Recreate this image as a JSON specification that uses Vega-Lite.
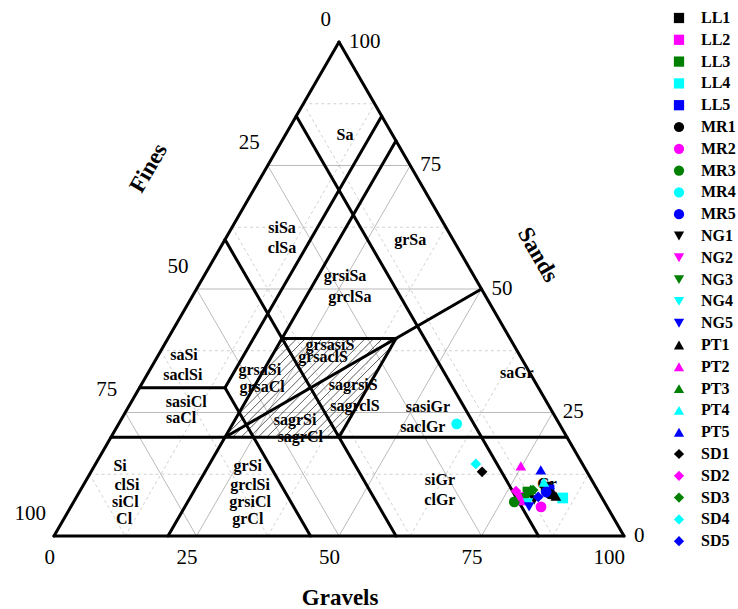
{
  "$schema": "https://vega.github.io/schema/vega-lite/v6.json",
  "width": 570,
  "height": 494,
  "autosize": {"type": "none"},
  "padding": {"left": 54, "top": 42, "right": 114, "bottom": 73},
  "background": "white",
  "config": {"view": {"stroke": null}},
  "datasets": {
    "grid": [
      {"level": "minor", "g1": 0, "s1": 12.5, "g2": 87.5, "s2": 12.5},
      {"level": "minor", "g1": 0, "s1": 37.5, "g2": 62.5, "s2": 37.5},
      {"level": "minor", "g1": 0, "s1": 62.5, "g2": 37.5, "s2": 62.5},
      {"level": "minor", "g1": 0, "s1": 87.5, "g2": 12.5, "s2": 87.5},
      {"level": "minor", "g1": 12.5, "s1": 0, "g2": 12.5, "s2": 87.5},
      {"level": "minor", "g1": 37.5, "s1": 0, "g2": 37.5, "s2": 62.5},
      {"level": "minor", "g1": 62.5, "s1": 0, "g2": 62.5, "s2": 37.5},
      {"level": "minor", "g1": 87.5, "s1": 0, "g2": 87.5, "s2": 12.5},
      {"level": "minor", "g1": 0, "s1": 87.5, "g2": 87.5, "s2": 0},
      {"level": "minor", "g1": 0, "s1": 62.5, "g2": 62.5, "s2": 0},
      {"level": "minor", "g1": 0, "s1": 37.5, "g2": 37.5, "s2": 0},
      {"level": "minor", "g1": 0, "s1": 12.5, "g2": 12.5, "s2": 0},
      {"level": "major", "g1": 0, "s1": 25, "g2": 75, "s2": 25},
      {"level": "major", "g1": 0, "s1": 50, "g2": 50, "s2": 50},
      {"level": "major", "g1": 0, "s1": 75, "g2": 25, "s2": 75},
      {"level": "major", "g1": 25, "s1": 0, "g2": 25, "s2": 75},
      {"level": "major", "g1": 50, "s1": 0, "g2": 50, "s2": 50},
      {"level": "major", "g1": 75, "s1": 0, "g2": 75, "s2": 25},
      {"level": "major", "g1": 0, "s1": 75, "g2": 75, "s2": 0},
      {"level": "major", "g1": 0, "s1": 50, "g2": 50, "s2": 0},
      {"level": "major", "g1": 0, "s1": 25, "g2": 25, "s2": 0}
    ],
    "hatch": [
      {"x1": 38.44, "y1": 31.94, "x2": 41.14, "y2": 34.64},
      {"x1": 36.40, "y1": 28.40, "x2": 42.64, "y2": 34.64},
      {"x1": 34.35, "y1": 24.85, "x2": 44.14, "y2": 34.64},
      {"x1": 32.30, "y1": 21.30, "x2": 45.64, "y2": 34.64},
      {"x1": 30.25, "y1": 17.75, "x2": 47.14, "y2": 34.64},
      {"x1": 31.32, "y1": 17.32, "x2": 48.64, "y2": 34.64},
      {"x1": 32.82, "y1": 17.32, "x2": 50.14, "y2": 34.64},
      {"x1": 34.32, "y1": 17.32, "x2": 51.64, "y2": 34.64},
      {"x1": 35.82, "y1": 17.32, "x2": 53.14, "y2": 34.64},
      {"x1": 37.32, "y1": 17.32, "x2": 54.64, "y2": 34.64},
      {"x1": 38.82, "y1": 17.32, "x2": 56.14, "y2": 34.64},
      {"x1": 40.32, "y1": 17.32, "x2": 57.64, "y2": 34.64},
      {"x1": 41.82, "y1": 17.32, "x2": 59.14, "y2": 34.64},
      {"x1": 43.32, "y1": 17.32, "x2": 59.13, "y2": 33.13},
      {"x1": 44.82, "y1": 17.32, "x2": 57.08, "y2": 29.58},
      {"x1": 46.32, "y1": 17.32, "x2": 55.03, "y2": 26.03},
      {"x1": 47.82, "y1": 17.32, "x2": 52.98, "y2": 22.48},
      {"x1": 49.32, "y1": 17.32, "x2": 50.93, "y2": 18.93}
    ],
    "bounds": [
      {"g1": 0, "s1": 0, "g2": 100, "s2": 0},
      {"g1": 100, "s1": 0, "g2": 0, "s2": 100},
      {"g1": 0, "s1": 100, "g2": 0, "s2": 0},
      {"g1": 0, "s1": 20, "g2": 80, "s2": 20},
      {"g1": 0, "s1": 30, "g2": 15, "s2": 30},
      {"g1": 20, "s1": 40, "g2": 40, "s2": 40},
      {"g1": 15, "s1": 30, "g2": 15, "s2": 85},
      {"g1": 20, "s1": 0, "g2": 20, "s2": 80},
      {"g1": 40, "s1": 20, "g2": 40, "s2": 40},
      {"g1": 0, "s1": 85, "g2": 85, "s2": 0},
      {"g1": 0, "s1": 60, "g2": 60, "s2": 0},
      {"g1": 15, "s1": 30, "g2": 45, "s2": 0},
      {"g1": 20, "s1": 20, "g2": 50, "s2": 50}
    ],
    "zones": [
      {"label": "Sa", "g": 10.45, "s": 81.2},
      {"label": "siSa", "g": 8.8, "s": 62.4},
      {"label": "clSa", "g": 10.85, "s": 58.3},
      {"label": "grSa", "g": 32.5, "s": 60.0},
      {"label": "grsiSa", "g": 24.7, "s": 52.7},
      {"label": "grclSa", "g": 27.7, "s": 48.4},
      {"label": "saSi", "g": 4.45, "s": 36.7},
      {"label": "saclSi", "g": 6.3, "s": 32.6},
      {"label": "sasiCl", "g": 9.65, "s": 27.1},
      {"label": "saCl", "g": 10.35, "s": 23.9},
      {"label": "Si", "g": 4.5, "s": 14.2},
      {"label": "clSi", "g": 7.65, "s": 10.3},
      {"label": "siCl", "g": 9.05, "s": 6.9},
      {"label": "Cl", "g": 10.6, "s": 3.4},
      {"label": "grSi", "g": 26.9, "s": 14.2},
      {"label": "grclSi", "g": 29.25, "s": 10.3},
      {"label": "grsiCl", "g": 30.95, "s": 6.9},
      {"label": "grCl", "g": 32.3, "s": 3.4},
      {"label": "grsaSi", "g": 19.3, "s": 33.6},
      {"label": "grsaCl", "g": 21.4, "s": 30.2},
      {"label": "grsasiS", "g": 29.05, "s": 38.7},
      {"label": "grsaclS", "g": 29.05, "s": 36.3},
      {"label": "sagrsiS", "g": 37.2, "s": 30.6},
      {"label": "sagrclS", "g": 39.65, "s": 26.3},
      {"label": "sagrSi", "g": 30.55, "s": 23.5},
      {"label": "sagrCl", "g": 33.15, "s": 20.1},
      {"label": "saGr", "g": 64.7, "s": 33.0},
      {"label": "sasiGr", "g": 52.55, "s": 26.1},
      {"label": "saclGr", "g": 53.65, "s": 22.1},
      {"label": "siGr", "g": 62.05, "s": 11.3},
      {"label": "clGr", "g": 64.05, "s": 7.3},
      {"label": "Gr", "g": 81.25, "s": 10.5}
    ],
    "ticks": [
      {"axis": "Gravels", "label": "0", "g": 0, "s": 0},
      {"axis": "Gravels", "label": "25", "g": 25, "s": 0},
      {"axis": "Gravels", "label": "50", "g": 50, "s": 0},
      {"axis": "Gravels", "label": "75", "g": 75, "s": 0},
      {"axis": "Gravels", "label": "100", "g": 100, "s": 0},
      {"axis": "Fines", "label": "0", "g": 0, "s": 100},
      {"axis": "Fines", "label": "25", "g": 0, "s": 75},
      {"axis": "Fines", "label": "50", "g": 0, "s": 50},
      {"axis": "Fines", "label": "75", "g": 0, "s": 25},
      {"axis": "Fines", "label": "100", "g": 0, "s": 0},
      {"axis": "Sands", "label": "100", "g": 0, "s": 100},
      {"axis": "Sands", "label": "75", "g": 25, "s": 75},
      {"axis": "Sands", "label": "50", "g": 50, "s": 50},
      {"axis": "Sands", "label": "25", "g": 75, "s": 25},
      {"axis": "Sands", "label": "0", "g": 100, "s": 0}
    ],
    "titles": [
      {"title": "Gravels", "x": 50.2, "y": -10.9},
      {"title": "Fines", "x": 16.6, "y": 64.5},
      {"title": "Sands", "x": 84.9, "y": 49.3}
    ],
    "samples": [
      {"sample": "LL1", "gravel": 81.4, "sand": 9.9, "fines": 8.7},
      {"sample": "LL2", "gravel": 78.3, "sand": 7.3, "fines": 14.4},
      {"sample": "LL3", "gravel": 78.7, "sand": 8.9, "fines": 12.4},
      {"sample": "LL4", "gravel": 85.4, "sand": 7.7, "fines": 6.9},
      {"sample": "LL5", "gravel": 82.2, "sand": 9.3, "fines": 8.5},
      {"sample": "MR1", "gravel": 82.8, "sand": 8.5, "fines": 8.7},
      {"sample": "MR2", "gravel": 82.5, "sand": 5.9, "fines": 11.6},
      {"sample": "MR3", "gravel": 77.3, "sand": 6.9, "fines": 15.8},
      {"sample": "MR4", "gravel": 59.3, "sand": 22.7, "fines": 18.0},
      {"sample": "MR5", "gravel": 81.9, "sand": 8.9, "fines": 9.2},
      {"sample": "NG1", "gravel": 80.6, "sand": 7.3, "fines": 12.1},
      {"sample": "NG2", "gravel": 77.6, "sand": 7.9, "fines": 14.5},
      {"sample": "NG3", "gravel": 79.0, "sand": 7.7, "fines": 13.3},
      {"sample": "NG4", "gravel": 79.8, "sand": 6.7, "fines": 13.5},
      {"sample": "NG5", "gravel": 80.4, "sand": 5.9, "fines": 13.7},
      {"sample": "PT1", "gravel": 84.0, "sand": 8.1, "fines": 7.9},
      {"sample": "PT2", "gravel": 74.8, "sand": 14.2, "fines": 11.0},
      {"sample": "PT3", "gravel": 78.9, "sand": 9.5, "fines": 11.6},
      {"sample": "PT4", "gravel": 80.5, "sand": 10.9, "fines": 8.6},
      {"sample": "PT5", "gravel": 78.7, "sand": 13.4, "fines": 7.9},
      {"sample": "SD1", "gravel": 68.6, "sand": 13.0, "fines": 18.4},
      {"sample": "SD2", "gravel": 76.5, "sand": 9.1, "fines": 14.4},
      {"sample": "SD3", "gravel": 79.4, "sand": 9.3, "fines": 11.3},
      {"sample": "SD4", "gravel": 66.7, "sand": 14.6, "fines": 18.7},
      {"sample": "SD5", "gravel": 81.0, "sand": 7.9, "fines": 11.1}
    ]
  },
  "layer": [
    {
      "data": {"name": "grid"},
      "transform": [
        {"filter": "datum.level === 'minor'"},
        {"calculate": "datum.g1 + datum.s1 / 2", "as": "x1"},
        {"calculate": "datum.s1 * sqrt(3) / 2", "as": "y1"},
        {"calculate": "datum.g2 + datum.s2 / 2", "as": "x2"},
        {"calculate": "datum.s2 * sqrt(3) / 2", "as": "y2"}
      ],
      "mark": {"type": "rule", "color": "#c4c4c4", "strokeWidth": 0.8, "strokeDash": [3, 3]},
      "encoding": {
        "x": {"field": "x1", "type": "quantitative", "scale": {"domain": [0, 100], "nice": false, "zero": false}, "axis": null},
        "y": {"field": "y1", "type": "quantitative", "scale": {"domain": [0, 86.6025], "nice": false, "zero": false}, "axis": null},
        "x2": {"field": "x2"},
        "y2": {"field": "y2"}
      }
    },
    {
      "data": {"name": "grid"},
      "transform": [
        {"filter": "datum.level === 'major'"},
        {"calculate": "datum.g1 + datum.s1 / 2", "as": "x1"},
        {"calculate": "datum.s1 * sqrt(3) / 2", "as": "y1"},
        {"calculate": "datum.g2 + datum.s2 / 2", "as": "x2"},
        {"calculate": "datum.s2 * sqrt(3) / 2", "as": "y2"}
      ],
      "mark": {"type": "rule", "color": "#a8a8a8", "strokeWidth": 0.8},
      "encoding": {
        "x": {"field": "x1", "type": "quantitative"},
        "y": {"field": "y1", "type": "quantitative"},
        "x2": {"field": "x2"},
        "y2": {"field": "y2"}
      }
    },
    {
      "data": {"name": "hatch"},
      "mark": {"type": "rule", "color": "#333333", "strokeWidth": 0.8},
      "encoding": {
        "x": {"field": "x1", "type": "quantitative"},
        "y": {"field": "y1", "type": "quantitative"},
        "x2": {"field": "x2"},
        "y2": {"field": "y2"}
      }
    },
    {
      "data": {"name": "bounds"},
      "transform": [
        {"calculate": "datum.g1 + datum.s1 / 2", "as": "x1"},
        {"calculate": "datum.s1 * sqrt(3) / 2", "as": "y1"},
        {"calculate": "datum.g2 + datum.s2 / 2", "as": "x2"},
        {"calculate": "datum.s2 * sqrt(3) / 2", "as": "y2"}
      ],
      "mark": {"type": "rule", "color": "black", "strokeWidth": 3, "strokeCap": "round"},
      "encoding": {
        "x": {"field": "x1", "type": "quantitative"},
        "y": {"field": "y1", "type": "quantitative"},
        "x2": {"field": "x2"},
        "y2": {"field": "y2"}
      }
    },
    {
      "data": {"name": "zones"},
      "transform": [
        {"calculate": "datum.g + datum.s / 2", "as": "x"},
        {"calculate": "datum.s * sqrt(3) / 2", "as": "y"}
      ],
      "mark": {"type": "text", "font": "Liberation Serif", "fontSize": 16, "fontWeight": "bold", "color": "black", "align": "center", "baseline": "middle"},
      "encoding": {
        "x": {"field": "x", "type": "quantitative"},
        "y": {"field": "y", "type": "quantitative"},
        "text": {"field": "label"}
      }
    },
    {
      "data": {"name": "ticks"},
      "transform": [
        {"filter": "datum.axis === 'Gravels'"},
        {"calculate": "datum.g + datum.s / 2", "as": "x"},
        {"calculate": "datum.s * sqrt(3) / 2", "as": "y"}
      ],
      "mark": {"type": "text", "font": "Liberation Serif", "fontSize": 21, "color": "black", "align": "right", "baseline": "middle", "dx": 1, "dy": 22},
      "encoding": {
        "x": {"field": "x", "type": "quantitative"},
        "y": {"field": "y", "type": "quantitative"},
        "text": {"field": "label"}
      }
    },
    {
      "data": {"name": "ticks"},
      "transform": [
        {"filter": "datum.axis === 'Fines'"},
        {"calculate": "datum.g + datum.s / 2", "as": "x"},
        {"calculate": "datum.s * sqrt(3) / 2", "as": "y"}
      ],
      "mark": {"type": "text", "font": "Liberation Serif", "fontSize": 21, "color": "black", "align": "right", "baseline": "middle", "dx": -8, "dy": -22},
      "encoding": {
        "x": {"field": "x", "type": "quantitative"},
        "y": {"field": "y", "type": "quantitative"},
        "text": {"field": "label"}
      }
    },
    {
      "data": {"name": "ticks"},
      "transform": [
        {"filter": "datum.axis === 'Sands'"},
        {"calculate": "datum.g + datum.s / 2", "as": "x"},
        {"calculate": "datum.s * sqrt(3) / 2", "as": "y"}
      ],
      "mark": {"type": "text", "font": "Liberation Serif", "fontSize": 21, "color": "black", "align": "left", "baseline": "middle", "dx": 10, "dy": 0},
      "encoding": {
        "x": {"field": "x", "type": "quantitative"},
        "y": {"field": "y", "type": "quantitative"},
        "text": {"field": "label"}
      }
    },
    {
      "data": {"name": "titles"},
      "transform": [{"filter": "datum.title === 'Gravels'"}],
      "mark": {"type": "text", "font": "Liberation Serif", "fontSize": 23, "fontWeight": "bold", "color": "black", "align": "center", "baseline": "middle"},
      "encoding": {
        "x": {"field": "x", "type": "quantitative"},
        "y": {"field": "y", "type": "quantitative"},
        "text": {"field": "title"}
      }
    },
    {
      "data": {"name": "titles"},
      "transform": [{"filter": "datum.title === 'Fines'"}],
      "mark": {"type": "text", "font": "Liberation Serif", "fontSize": 23, "fontWeight": "bold", "color": "black", "align": "center", "baseline": "middle", "angle": 300},
      "encoding": {
        "x": {"field": "x", "type": "quantitative"},
        "y": {"field": "y", "type": "quantitative"},
        "text": {"field": "title"}
      }
    },
    {
      "data": {"name": "titles"},
      "transform": [{"filter": "datum.title === 'Sands'"}],
      "mark": {"type": "text", "font": "Liberation Serif", "fontSize": 23, "fontWeight": "bold", "color": "black", "align": "center", "baseline": "middle", "angle": 60},
      "encoding": {
        "x": {"field": "x", "type": "quantitative"},
        "y": {"field": "y", "type": "quantitative"},
        "text": {"field": "title"}
      }
    },
    {
      "data": {"name": "samples"},
      "transform": [
        {"calculate": "datum.gravel + datum.sand / 2", "as": "x"},
        {"calculate": "datum.sand * sqrt(3) / 2", "as": "y"}
      ],
      "mark": {"type": "point", "filled": true, "opacity": 1, "size": 115, "strokeWidth": 0},
      "encoding": {
        "x": {"field": "x", "type": "quantitative"},
        "y": {"field": "y", "type": "quantitative"},
        "color": {
          "field": "sample",
          "type": "nominal",
          "scale": {
            "domain": ["LL1", "LL2", "LL3", "LL4", "LL5", "MR1", "MR2", "MR3", "MR4", "MR5", "NG1", "NG2", "NG3", "NG4", "NG5", "PT1", "PT2", "PT3", "PT4", "PT5", "SD1", "SD2", "SD3", "SD4", "SD5"],
            "range": ["#000000", "#ff00ff", "#008000", "#00ffff", "#0000ff", "#000000", "#ff00ff", "#008000", "#00ffff", "#0000ff", "#000000", "#ff00ff", "#008000", "#00ffff", "#0000ff", "#000000", "#ff00ff", "#008000", "#00ffff", "#0000ff", "#000000", "#ff00ff", "#008000", "#00ffff", "#0000ff"]
          },
          "legend": {
            "title": null,
            "orient": "none",
            "legendX": 617,
            "legendY": -32,
            "padding": 0,
            "labelFont": "Liberation Serif",
            "labelFontSize": 16,
            "labelFontWeight": "bold",
            "labelColor": "black",
            "labelOffset": 14,
            "labelLimit": 60,
            "symbolSize": 105,
            "symbolOpacity": 1,
            "symbolStrokeWidth": 0,
            "rowPadding": 5.8
          }
        },
        "shape": {
          "field": "sample",
          "type": "nominal",
          "scale": {
            "domain": ["LL1", "LL2", "LL3", "LL4", "LL5", "MR1", "MR2", "MR3", "MR4", "MR5", "NG1", "NG2", "NG3", "NG4", "NG5", "PT1", "PT2", "PT3", "PT4", "PT5", "SD1", "SD2", "SD3", "SD4", "SD5"],
            "range": ["square", "square", "square", "square", "square", "circle", "circle", "circle", "circle", "circle", "triangle-down", "triangle-down", "triangle-down", "triangle-down", "triangle-down", "triangle-up", "triangle-up", "triangle-up", "triangle-up", "triangle-up", "diamond", "diamond", "diamond", "diamond", "diamond"]
          }
        }
      }
    }
  ]
}
